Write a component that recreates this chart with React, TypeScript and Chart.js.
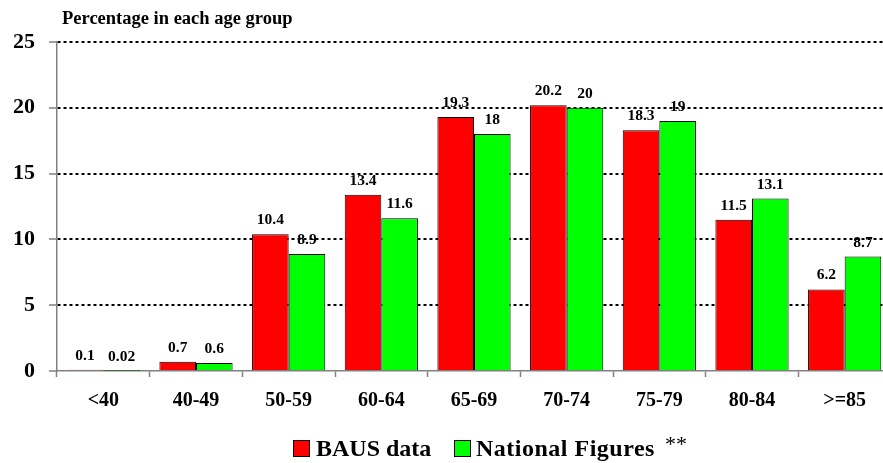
import React, { useEffect, useRef } from "react";
import { Chart, registerables } from "chart.js";
Chart.register(...registerables);

const categories = ["<40", "40-49", "50-59", "60-64", "65-69", "70-74", "75-79", "80-84", ">=85"];
const bausData = [0.1, 0.7, 10.4, 13.4, 19.3, 20.2, 18.3, 11.5, 6.2];
const nationalData = [0.02, 0.6, 8.9, 11.6, 18, 20, 19, 13.1, 8.7];
const bausLabels = ["0.1", "0.7", "10.4", "13.4", "19.3", "20.2", "18.3", "11.5", "6.2"];
const nationalLabels = ["0.02", "0.6", "8.9", "11.6", "18", "20", "19", "13.1", "8.7"];
const yTicks = [0, 5, 10, 15, 20, 25];

const SERIF = "'Liberation Serif', 'Times New Roman', serif";

const overlay = {
  id: "overlay",
  afterDatasetsDraw(chart: any) {
    const ctx = chart.ctx;
    ctx.save();
    ctx.fillStyle = "#000";
    ctx.font = `bold 15.5px ${SERIF}`;
    ctx.textAlign = "center";
    ctx.textBaseline = "alphabetic";
    const labelSets = [bausLabels, nationalLabels];
    chart.data.datasets.forEach((ds: any, di: number) => {
      const meta = chart.getDatasetMeta(di);
      meta.data.forEach((bar: any, i: number) => {
        ctx.fillText(labelSets[di][i], bar.x, bar.y - 10);
      });
    });
    // title
    ctx.textAlign = "left";
    ctx.font = `bold 18.5px ${SERIF}`;
    ctx.fillText("Percentage in each age group", 62, 24);
    // legend
    ctx.font = `bold 24px ${SERIF}`;
    const ly = 456;
    ctx.lineWidth = 1;
    ctx.strokeStyle = "#000";
    ctx.fillStyle = "#ff0000";
    ctx.fillRect(293.5, 440.5, 16, 16);
    ctx.strokeRect(293.5, 440.5, 16, 16);
    ctx.fillStyle = "#000";
    ctx.fillText("BAUS data", 316, ly);
    ctx.fillStyle = "#00ff00";
    ctx.fillRect(454.5, 440.5, 16, 16);
    ctx.strokeRect(454.5, 440.5, 16, 16);
    ctx.fillStyle = "#000";
    (ctx as any).letterSpacing = "0.5px";
    ctx.fillText("National Figures", 476, ly);
    (ctx as any).letterSpacing = "0px";
    ctx.font = `22px ${SERIF}`;
    ctx.fillText("**", 665, 451);
    ctx.restore();
  },
};

export default function App() {
  const ref = useRef<HTMLCanvasElement>(null);
  useEffect(() => {
    if (!ref.current) return;
    const chart = new Chart(ref.current, {
      type: "bar",
      data: {
        labels: categories,
        datasets: [
          {
            label: "BAUS data",
            data: bausData,
            backgroundColor: "#ff0000",
            borderColor: "#000",
            borderWidth: 1,
            categoryPercentage: 0.79,
            barPercentage: 1,
          },
          {
            label: "National Figures",
            data: nationalData,
            backgroundColor: "#00ff00",
            borderColor: "#000",
            borderWidth: 1,
            categoryPercentage: 0.79,
            barPercentage: 1,
          },
        ],
      },
      options: {
        responsive: false,
        animation: false,
        layout: { padding: { top: 42, left: 0, right: 9, bottom: 0 } },
        plugins: { legend: { display: false }, tooltip: { enabled: false }, title: { display: false } },
        scales: {
          x: {
            grid: {
              offset: true,
              drawOnChartArea: false,
              drawTicks: true,
              tickLength: 6,
              tickColor: "#808080",
              tickWidth: 1.5,
              color: "#808080",
            },
            border: { color: "#808080", width: 1.5 },
            ticks: {
              color: "#000",
              font: { family: SERIF, size: 20, weight: "bold" },
              padding: 12,
            },
            afterFit(scale: any) {
              scale.height = 92;
            },
          },
          y: {
            min: 0,
            max: 25,
            afterBuildTicks(scale: any) {
              scale.ticks = yTicks.map((v) => ({ value: v }));
            },
            grid: {
              color: (c: any) => (c.tick && c.tick.value === 0 ? "rgba(0,0,0,0)" : "#000"),
              lineWidth: 2,
              drawTicks: true,
              tickLength: 8,
              tickColor: "#808080",
              tickBorderDash: [],
              tickWidth: 1.5,
            },
            border: { color: "#808080", width: 1.5, dash: [3, 3] },
            ticks: {
              color: "#000",
              font: { family: SERIF, size: 22, weight: "bold" },
              padding: 14,
            },
            afterFit(scale: any) {
              scale.width = 57;
            },
          },
        },
      },
      plugins: [overlay],
    });
    return () => chart.destroy();
  }, []);
  return (
    <div style={{ position: "fixed", left: 0, top: 0, width: 883, height: 463, overflow: "hidden", background: "#fff" }}>
      <canvas ref={ref} width={900} height={463} style={{ width: 900, height: 463 }} />
    </div>
  );
}
